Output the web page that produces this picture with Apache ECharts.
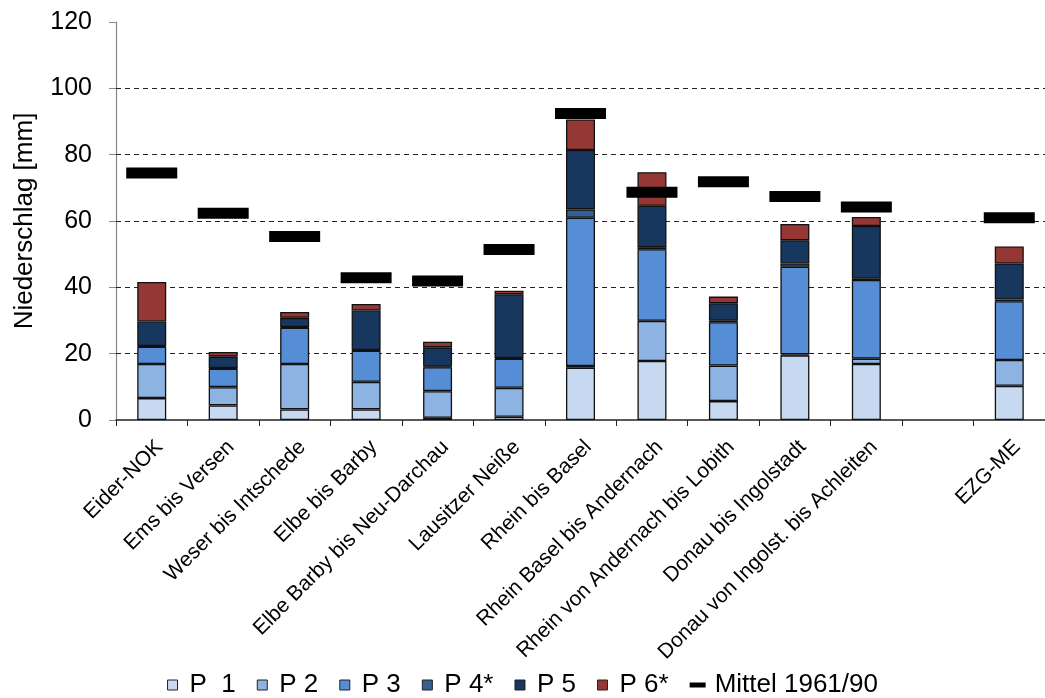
<!DOCTYPE html>
<html>
<head>
<meta charset="utf-8">
<script src="https://cdn.jsdelivr.net/npm/echarts@6/dist/echarts.min.js"></script>
<style>
  html, body { margin: 0; padding: 0; background: #fff; }
  #chart { width: 1045px; height: 698px; }
</style>
</head>
<body>
<div id="chart"></div>
<script>
// Gebiete (leere Kategorie vor EZG-ME)
var categories = [
  "Eider-NOK", "Ems bis Versen", "Weser bis Intschede", "Elbe bis Barby",
  "Elbe Barby bis Neu-Darchau", "Lausitzer Neiße", "Rhein bis Basel",
  "Rhein Basel bis Andernach", "Rhein von Andernach bis Lobith",
  "Donau bis Ingolstadt", "Donau von Ingolst. bis Achleiten", "", "EZG-ME"
];

var p1 = [6.6, 4.4, 3.2, 3.2, 0.7, 1.0, 15.8, 17.8, 5.7, 19.5, 16.9, null, 10.3];
var p2 = [10.3, 5.5, 13.7, 8.3, 8.0, 8.7, 0.5, 12.1, 10.7, 0.3, 1.6, null, 7.8];
var p3 = [5.2, 5.6, 10.9, 9.4, 7.2, 8.8, 44.7, 21.6, 13.1, 26.4, 23.7, null, 17.7];
var p4 = [0.2, 0.2, 0.2, 0.2, 0.2, 0.2, 2.5, 0.6, 0.4, 1.0, 0.4, null, 0.5];
var p5 = [7.4, 3.4, 2.8, 11.9, 5.8, 19.2, 17.9, 12.5, 5.3, 7.0, 15.9, null, 10.9];
var p6 = [11.9, 1.4, 1.8, 2.0, 1.7, 1.1, 9.2, 10.1, 2.0, 4.9, 2.7, null, 5.1];
var mittel = [74.5, 62.3, 55.3, 42.9, 41.9, 51.4, 92.4, 68.7, 71.8, 67.4, 64.2, null, 61.0];

var gridValues = [20, 40, 60, 80, 100];

var font = "Liberation Sans, Arial, sans-serif";
var square = "path://M0,0 L10,0 L10,10 L0,10 Z";

function barSeries(name, data, color) {
  return {
    name: name,
    type: "bar",
    stack: "p",
    data: data,
    barWidth: 29,
    itemStyle: { color: color, borderColor: "#111", borderWidth: 1.3 },
    z: 3
  };
}

function legendItem(name) {
  return { name: name, icon: square, itemStyle: { borderColor: "#222", borderWidth: 1 } };
}

var chart = echarts.init(document.getElementById("chart"));

var series = [
  barSeries("P  1", p1, "#C6D9F0"),
  barSeries("P 2", p2, "#8DB3E2"),
  barSeries("P 3", p3, "#558ED5"),
  barSeries("P 4*", p4, "#366092"),
  barSeries("P 5", p5, "#17375E"),
  barSeries("P 6*", p6, "#953735"),
  {
    name: "Mittel 1961/90",
    type: "scatter",
    data: mittel,
    symbol: "rect",
    symbolSize: [51, 11],
    itemStyle: { color: "#000", opacity: 1 },
    z: 5
  }
];

// gestrichelte Rasterlinien (ohne Linie bei 120)
series[0].markLine = {
  silent: true,
  symbol: "none",
  label: { show: false },
  lineStyle: { color: "#222", type: [5, 4], width: 1 },
  data: gridValues.map(function (v) { return { yAxis: v }; }),
  z: 1
};

var option = {
  animation: false,
  backgroundColor: "#fff",
  grid: { left: 116, top: 22, right: -10, bottom: 278 },
  legend: {
    bottom: -5,
    left: "center",
    itemWidth: 16,
    itemHeight: 10,
    itemGap: 21,
    textStyle: { fontFamily: font, fontSize: 26, color: "#000", padding: [0, 0, 0, 4] },
    data: [
      legendItem("P  1"), legendItem("P 2"), legendItem("P 3"),
      legendItem("P 4*"), legendItem("P 5"), legendItem("P 6*"),
      { name: "Mittel 1961/90", icon: "path://M0,0 L16,0 L16,5 L0,5 Z" }
    ]
  },
  xAxis: {
    type: "category",
    data: categories,
    boundaryGap: true,
    axisLine: { lineStyle: { color: "#222", width: 1.5 } },
    axisTick: { show: true, length: 6, lineStyle: { color: "#222" } },
    axisLabel: {
      interval: 0,
      rotate: 45,
      margin: 16,
      lineHeight: 22,
      // leere erste Zeile: Text rückt etwas nach rechts unten wie im Original
      formatter: function (v) { return "\n" + v; },
      fontFamily: font,
      fontSize: 21,
      color: "#000"
    }
  },
  yAxis: {
    type: "value",
    min: 0,
    max: 120,
    interval: 20,
    name: "Niederschlag [mm]",
    nameLocation: "middle",
    nameGap: 78,
    nameTextStyle: { fontFamily: font, fontSize: 26, color: "#000" },
    axisLine: { show: true, lineStyle: { color: "#888", width: 1.2 } },
    axisTick: { show: true, length: 7, lineStyle: { color: "#888" } },
    axisLabel: {
      margin: 24,
      fontFamily: font,
      fontSize: 25,
      color: "#000"
    },
    splitLine: { show: false }
  },
  series: series
};

chart.setOption(option);
</script>
</body>
</html>
